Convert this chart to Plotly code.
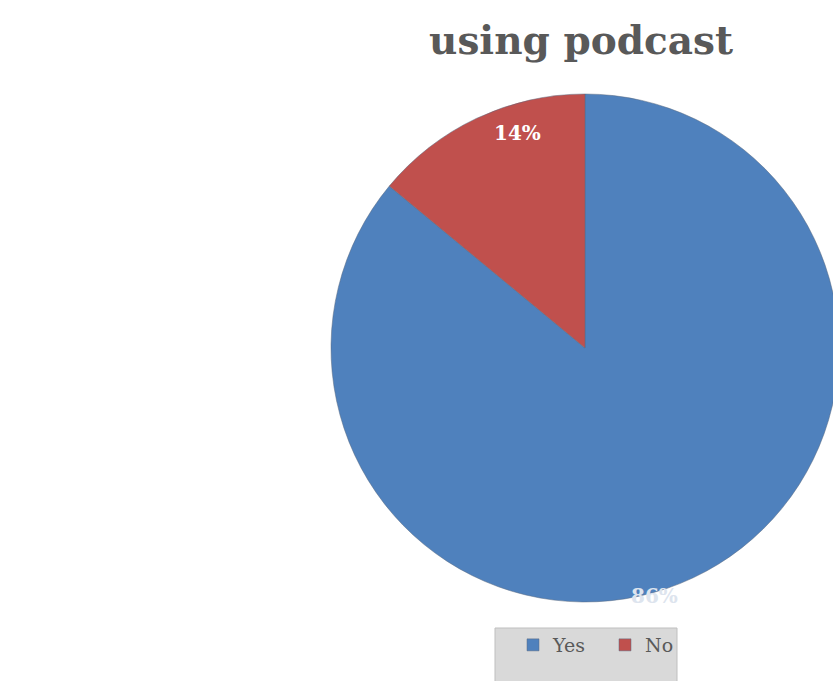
import plotly.graph_objects as go

labels = ["Yes", "No"]
values = [86, 14]
colors = ["#4F81BD", "#C0504D"]
title_text = "using podcast"

W, H = 845, 681
fig = go.Figure(go.Pie(
    labels=labels, values=values, sort=False, direction="clockwise", rotation=0,
    marker=dict(colors=colors, line=dict(color="#5a6a80", width=0.5)),
    textinfo="none", hoverinfo="label+percent",
    domain=dict(x=[331 / W, 839 / W], y=[(H - 603) / H, (H - 93) / H]),
))

ann_font = dict(family="DejaVu Serif", size=20, color="white")
fig.update_layout(
    width=W, height=H,
    margin=dict(l=0, r=0, t=0, b=0),
    paper_bgcolor="white", plot_bgcolor="white",
    title=dict(text="<b>" + title_text + "</b>", x=581 / W, xanchor="center", y=1 - 40 / H, yanchor="middle",
               font=dict(family="DejaVu Serif", size=39, color="#595959")),
    showlegend=True,
    legend=dict(orientation="h", x=513 / W, xanchor="left", y=1 - 626 / H, yanchor="top",
                bgcolor="rgba(0,0,0,0)", font=dict(family="DejaVu Serif", size=19, color="#595959"),
                entrywidth=47, entrywidthmode="pixels", tracegroupgap=0),
    shapes=[dict(type="rect", xref="paper", yref="paper", x0=495 / W, x1=677 / W, y0=-0.01, y1=1 - 628 / H,
                 fillcolor="#D9D9D9", line=dict(color="#BFBFBF", width=1), layer="below")],
    annotations=[
        dict(text="<b>" + str(values[1]) + "%</b>", x=517 / W, y=1 - 133 / H, xref="paper", yref="paper",
             xanchor="center", yanchor="middle", showarrow=False, font=ann_font),
        dict(text="<b>" + str(values[0]) + "%</b>", x=654 / W, y=1 - 596 / H, xref="paper", yref="paper",
             xanchor="center", yanchor="middle", showarrow=False,
             font=dict(family="DejaVu Serif", size=20, color="#dde4ee")),
    ],
)

fig.write_html("out.html", config={"displayModeBar": False},
               post_script="document.body.style.margin='0';document.body.style.overflow='hidden';")
